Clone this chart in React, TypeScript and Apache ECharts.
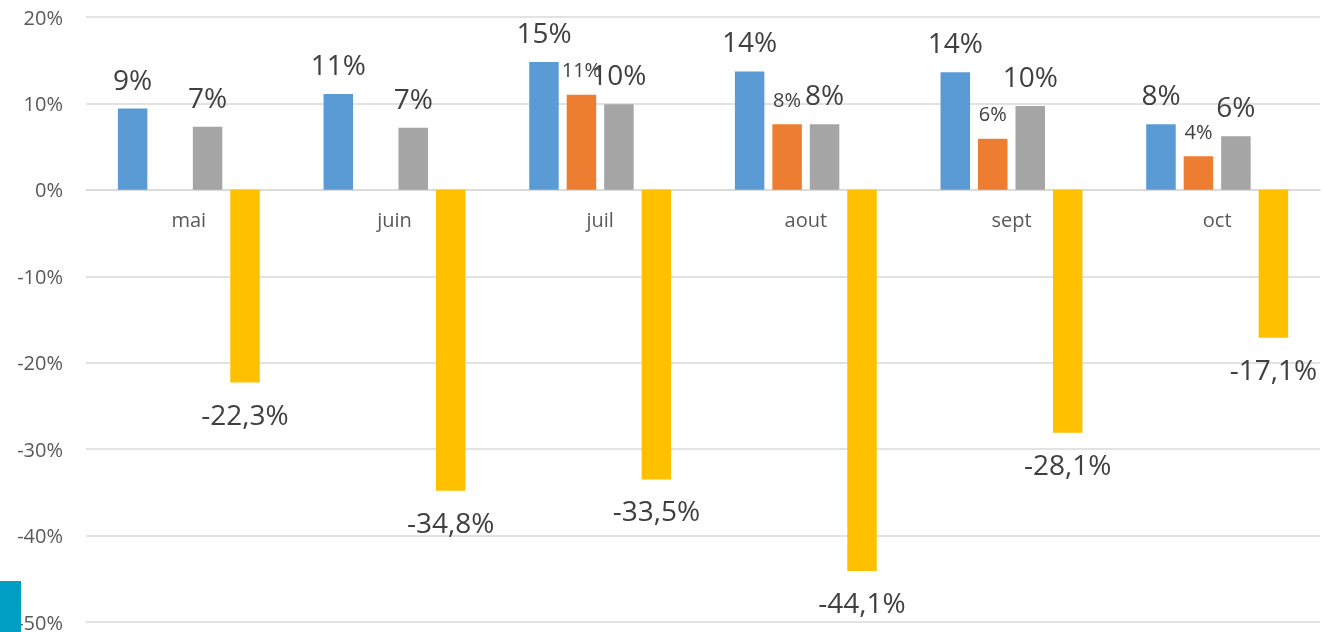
import React, { useEffect, useRef } from "react";
import * as echarts from "echarts";

const categories = ["mai", "juin", "juil", "aout", "sept", "oct"];
const seriesBlue = [9.4, 11.1, 14.8, 13.7, 13.6, 7.6];
const seriesOrange: (number | null)[] = [null, null, 11.0, 7.6, 5.9, 3.9];
const seriesGray = [7.3, 7.2, 9.9, 7.6, 9.7, 6.2];
const seriesYellow = [-22.3, -34.8, -33.5, -44.1, -28.1, -17.1];
const yTicks = { min: -50, max: 20, interval: 10 };

const FONT = "'Open Sans', sans-serif";
const GRID = { left: 86, right: 2, top: 17, bottom: 10 };
const HEIGHT = 632;

export default function App() {
  const ref = useRef<HTMLDivElement>(null);
  useEffect(() => {
    if (!ref.current) return;
    const chart = echarts.init(ref.current, undefined, { renderer: "svg" });
    const gridH = HEIGHT - GRID.top - GRID.bottom;
    const zeroFromBottom =
      (gridH * (0 - yTicks.min)) / (yTicks.max - yTicks.min);
    const bigLabel = {
      show: true,
      position: "top",
      distance: 16,
      fontSize: 28,
      fontFamily: FONT,
      color: "#404040",
      formatter: (p: any) => Math.round(p.value) + "%",
    };
    chart.setOption({
      animation: false,
      textStyle: { fontFamily: FONT },
      grid: {
        ...GRID,
        containLabel: false,
        outerBoundsMode: "none",
      },
      xAxis: {
        type: "category",
        data: categories,
        offset: -zeroFromBottom,
        axisLine: {
          onZero: false,
          lineStyle: { color: "#D9D9D9", width: 1.5 },
        },
        axisTick: { show: false },
        axisLabel: { fontSize: 20, fontFamily: FONT, color: "#595959", margin: 20 },
      },
      yAxis: {
        type: "value",
        min: yTicks.min,
        max: yTicks.max,
        interval: yTicks.interval,
        axisLine: { show: false },
        axisTick: { show: false },
        splitLine: { lineStyle: { color: "#D9D9D9", width: 1.5 } },
        axisLabel: {
          fontSize: 20,
          fontFamily: FONT,
          color: "#595959",
          margin: 23,
          formatter: "{value}%",
        },
      },
      series: [
        {
          type: "bar",
          data: seriesBlue,
          itemStyle: { color: "#5B9BD5" },
          barGap: "27%",
          barCategoryGap: "31%",
          label: bigLabel,
        },
        {
          type: "bar",
          data: seriesOrange,
          itemStyle: { color: "#ED7D31" },
          label: { ...bigLabel, fontSize: 20, distance: 15 },
        },
        {
          type: "bar",
          data: seriesGray,
          itemStyle: { color: "#A5A5A5" },
          label: bigLabel,
        },
        {
          type: "bar",
          data: seriesYellow,
          itemStyle: { color: "#FFC000" },
          label: {
            show: true,
            position: "bottom",
            distance: 17,
            fontSize: 28,
            fontFamily: FONT,
            color: "#404040",
            formatter: (p: any) => p.value.toFixed(1).replace(".", ",") + "%",
          },
        },
      ],
      graphic: [
        {
          type: "rect",
          left: 0,
          top: 581,
          z: 100,
          shape: { width: 21, height: 51 },
          style: { fill: "#009DC4" },
        },
      ],
    });
    return () => chart.dispose();
  }, []);
  return (
    <div
      ref={ref}
      style={{ position: "fixed", left: 0, top: 0, width: 1322, height: HEIGHT }}
    />
  );
}
